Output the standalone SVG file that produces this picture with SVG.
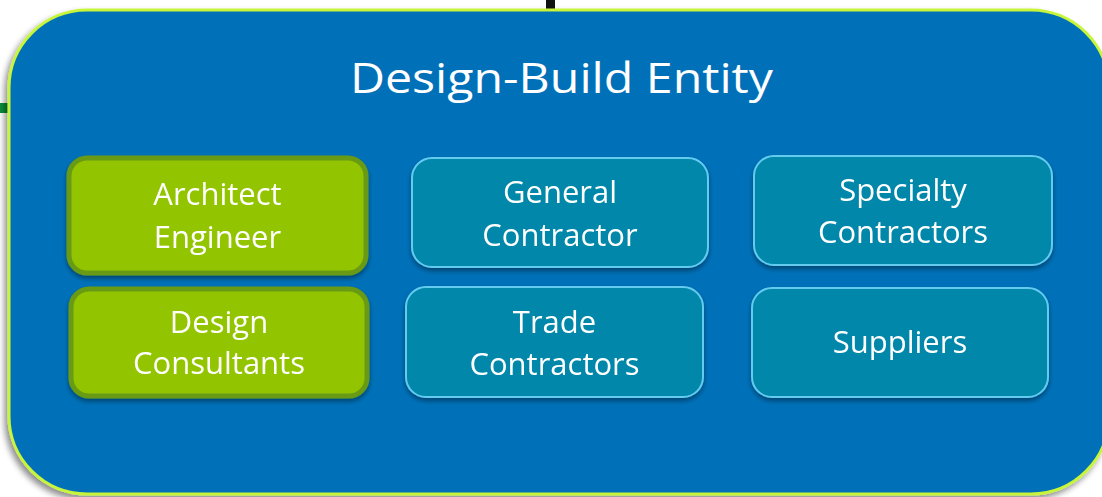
<svg xmlns="http://www.w3.org/2000/svg" width="1102" height="497" viewBox="0 0 1102 497">
  <defs>
    <filter id="bigShadow" x="-5%" y="-5%" width="110%" height="115%">
      <feGaussianBlur in="SourceAlpha" stdDeviation="3"/>
      <feOffset dx="-3" dy="4" result="b"/>
      <feComponentTransfer><feFuncA type="linear" slope="0.45"/></feComponentTransfer>
      <feMerge><feMergeNode/><feMergeNode in="SourceGraphic"/></feMerge>
    </filter>
    <filter id="boxShadow" x="-5%" y="-10%" width="110%" height="130%">
      <feGaussianBlur in="SourceAlpha" stdDeviation="2.5"/>
      <feOffset dx="0" dy="3" result="b"/>
      <feComponentTransfer><feFuncA type="linear" slope="0.4"/></feComponentTransfer>
      <feMerge><feMergeNode/><feMergeNode in="SourceGraphic"/></feMerge>
    </filter>
    <style>
      .title { font-family: "Open Sans", "Liberation Sans", sans-serif; font-size: 42px; fill: #ffffff; text-anchor: middle; }
      .lbl { font-family: "Open Sans", "Liberation Sans", sans-serif; font-size: 31px; fill: #ffffff; text-anchor: middle; }
      .green { fill: #92C500; stroke: #689A12; stroke-width: 5; }
      .teal { fill: #0087A9; stroke: #63CBF0; stroke-width: 2; }
    </style>
  </defs>

  <rect width="1102" height="497" fill="#ffffff"/>
  <!-- background fragments -->
  <rect x="0" y="103" width="14" height="10" fill="#0A8F3C"/>
  <rect x="546" y="0" width="9" height="12" fill="#111111"/>

  <g id="entity">
    <rect x="9" y="10" width="1100" height="484" rx="78" ry="78" fill="#0071B9" stroke="#C8F53A" stroke-width="3" filter="url(#bigShadow)"/>
    <text class="title" x="561.5" y="93" textLength="423" lengthAdjust="spacingAndGlyphs">Design-Build Entity</text>
  </g>

  <g id="architect-engineer" filter="url(#boxShadow)">
    <rect class="green" x="69" y="158" width="297" height="115" rx="18"/>
    <text class="lbl" x="217.5" y="205">Architect</text>
    <text class="lbl" x="217.5" y="248">Engineer</text>
  </g>
  <g id="design-consultants" filter="url(#boxShadow)">
    <rect class="green" x="71" y="289" width="296" height="107" rx="18"/>
    <text class="lbl" x="219" y="333">Design</text>
    <text class="lbl" x="219" y="374">Consultants</text>
  </g>
  <g id="general-contractor" filter="url(#boxShadow)">
    <rect class="teal" x="412" y="158" width="296" height="109" rx="20"/>
    <text class="lbl" x="560" y="203">General</text>
    <text class="lbl" x="560" y="246">Contractor</text>
  </g>
  <g id="trade-contractors" filter="url(#boxShadow)">
    <rect class="teal" x="406" y="287" width="297" height="110" rx="20"/>
    <text class="lbl" x="554.5" y="333">Trade</text>
    <text class="lbl" x="554.5" y="375">Contractors</text>
  </g>
  <g id="specialty-contractors" filter="url(#boxShadow)">
    <rect class="teal" x="754" y="156" width="298" height="109" rx="20"/>
    <text class="lbl" x="903" y="201">Specialty</text>
    <text class="lbl" x="903" y="243">Contractors</text>
  </g>
  <g id="suppliers" filter="url(#boxShadow)">
    <rect class="teal" x="752" y="288" width="296" height="109" rx="20"/>
    <text class="lbl" x="900" y="353">Suppliers</text>
  </g>

  <g id="connectors"></g>
</svg>
